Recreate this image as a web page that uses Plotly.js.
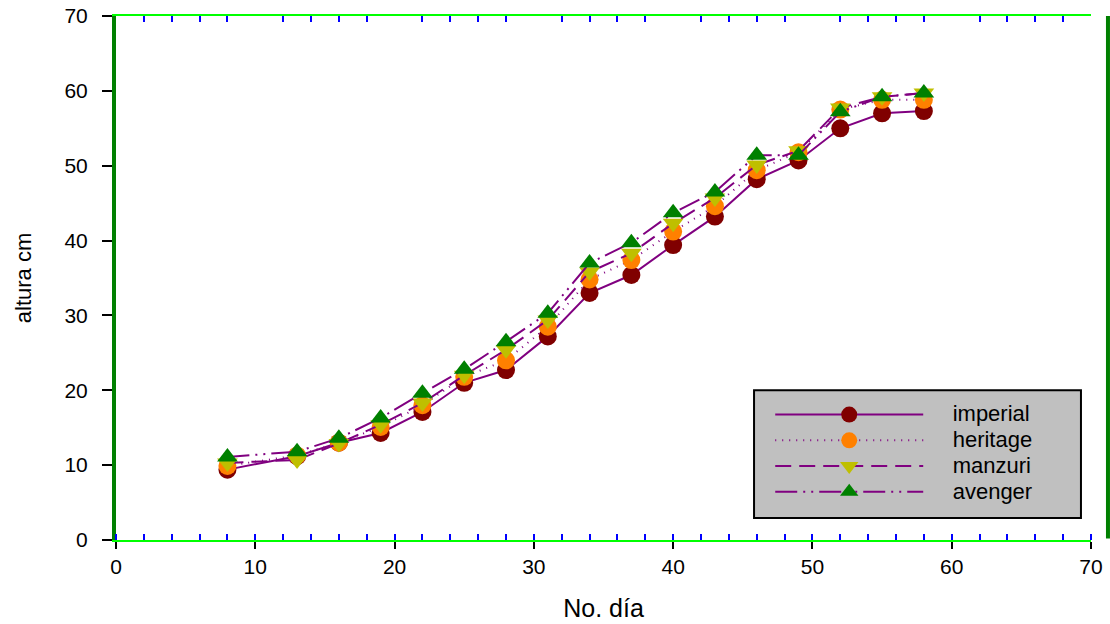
<!DOCTYPE html>
<html>
<head>
<meta charset="utf-8">
<script src="https://cdn.plot.ly/plotly-3.0.1.min.js"></script>
<style>html,body{margin:0;padding:0;background:#fff;}#chart{width:1110px;height:624px;}</style>
</head>
<body>
<div id="chart"></div>
<script>
const dias = [8, 13, 16, 19, 22, 25, 28, 31, 34, 37, 40, 43, 46, 49, 52, 55, 58];
const imperial = [9.4, 11.2, 13.0, 14.3, 17.1, 21.0, 22.7, 27.2, 33.0, 35.4, 39.4, 43.2, 48.2, 50.7, 55.0, 57.0, 57.3];
const heritage = [9.9, 11.3, 13.0, 15.1, 18.0, 21.8, 24.0, 28.5, 34.8, 37.4, 41.2, 44.6, 49.4, 51.8, 57.5, 58.8, 58.8];
const manzuri  = [10.3, 10.7, 12.9, 15.4, 18.3, 22.0, 25.4, 29.4, 35.8, 38.3, 42.3, 45.7, 50.1, 52.0, 57.7, 59.2, 59.7];
const avenger  = [11.1, 11.8, 13.6, 16.3, 19.6, 22.8, 26.5, 30.3, 37.0, 39.7, 43.7, 46.5, 51.4, 51.4, 57.2, 59.2, 59.7];
const seriesNames = ['imperial', 'heritage', 'manzuri', 'avenger'];
const xTitle = 'No. día';
const yTitle = 'altura cm';

const fontFam = 'Arial, "Liberation Sans", sans-serif';
const purple = '#800080';
const pad = '\u00a0\u00a0\u00a0\u00a0';

function tr(name, y, color, symbol, dash) {
  return {
    x: dias, y: y, name: '<span style="font-size:22px">' + pad + name + '</span>',
    type: 'scatter', mode: 'lines+markers',
    line: {color: purple, width: 2, dash: dash},
    marker: {color: color, symbol: symbol, size: 18, line: {width: 0}}
  };
}

const data = [
  tr(seriesNames[0], imperial, '#800000', 'circle', 'solid'),
  tr(seriesNames[1], heritage, '#ff8000', 'circle', '1px,6px'),
  tr(seriesNames[2], manzuri, '#bfbf00', 'triangle-down', '16px,8px'),
  tr(seriesNames[3], avenger, '#008000', 'triangle-up', '22px,6px,2px,6px,2px,6px'),
  {x: [], y: [], xaxis: 'x2', yaxis: 'y', type: 'scatter', mode: 'markers', showlegend: false, hoverinfo: 'skip'}
];

const layout = {
  width: 1110, height: 624,
  margin: {l: 116, r: 19, t: 16, b: 84},
  paper_bgcolor: '#ffffff', plot_bgcolor: '#ffffff',
  font: {family: fontFam, size: 21, color: '#000'},
  showlegend: true,
  legend: {
    x: 0.671, y: 0.2735, xanchor: 'left', yanchor: 'top',
    bgcolor: 'rgba(0,0,0,0)', borderwidth: 0,
    font: {family: fontFam, size: 17.5, color: '#000'},
    itemwidth: 148, tracegroupgap: 0
  },
  xaxis: {
    range: [0, 70], dtick: 10, tick0: 0,
    showgrid: false, zeroline: false,
    showline: true, linecolor: '#00ff00', linewidth: 2,
    ticks: 'outside', ticklen: 7, tickwidth: 2, tickcolor: '#000',
    minor: {dtick: 2, ticks: 'inside', ticklen: 6, tickwidth: 2, tickcolor: '#0000ff', showgrid: false},
    tickfont: {family: fontFam, size: 21, color: '#000'},
    title: {text: xTitle, font: {family: fontFam, size: 25, color: '#000'}, standoff: 22}
  },
  xaxis2: {
    range: [0, 70], dtick: 10, tick0: 0, overlaying: 'x', side: 'top', anchor: 'y',
    showgrid: false, zeroline: false, showticklabels: false,
    showline: true, linecolor: '#00ff00', linewidth: 2,
    ticks: '',
    minor: {dtick: 2, ticks: 'inside', ticklen: 6, tickwidth: 2, tickcolor: '#0000ff', showgrid: false}
  },
  yaxis: {
    range: [0, 70], dtick: 10, tick0: 0,
    showgrid: false, zeroline: false,
    showline: true, linecolor: '#008000', linewidth: 4,
    ticks: 'outside', ticklen: 10, tickwidth: 2, tickcolor: '#000',
    ticklabelstandoff: 10,
    tickfont: {family: fontFam, size: 21, color: '#000'},
    title: {text: yTitle, font: {family: fontFam, size: 22, color: '#000'}, standoff: 28}
  },
  shapes: [
    {type: 'rect', xref: 'paper', yref: 'paper', x0: 0.6544, x1: 0.9897, y0: 0.042, y1: 0.286,
     fillcolor: '#c0c0c0', line: {color: '#000', width: 2}, layer: 'above'},
    {type: 'line', xref: 'paper', yref: 'paper', x0: 1.0174, x1: 1.0174, y0: 0.003, y1: 1,
     line: {color: '#008000', width: 4}}
  ]
};

Plotly.newPlot('chart', data, layout, {displayModeBar: false, responsive: false});
</script>
</body>
</html>
